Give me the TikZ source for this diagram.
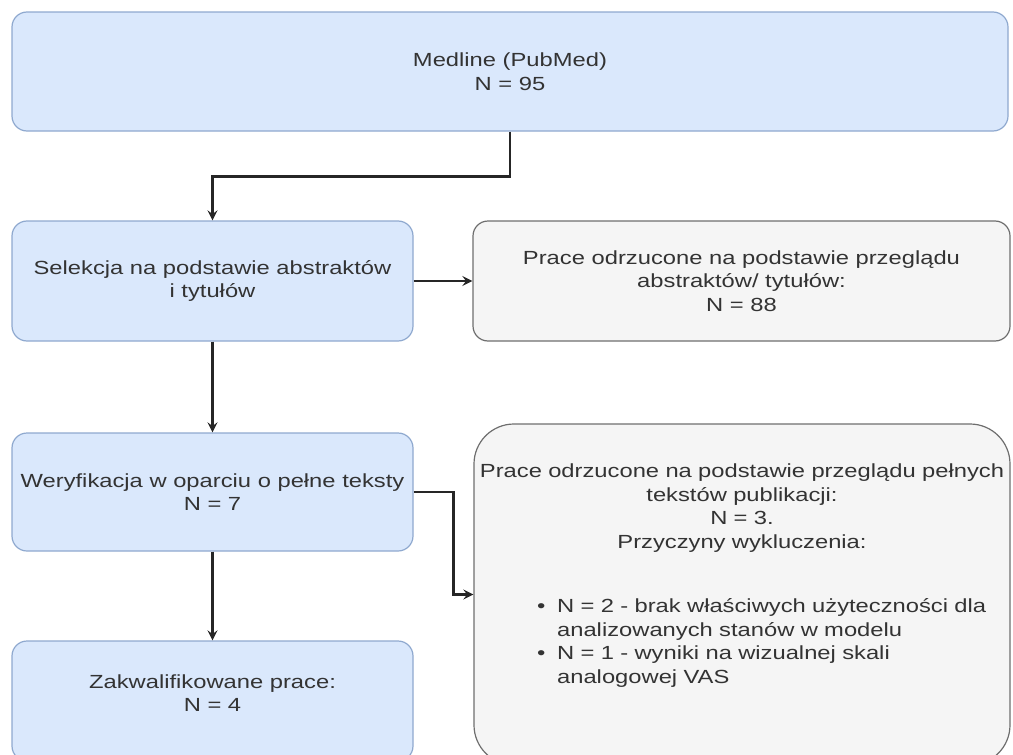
\documentclass[tikz,border=0pt]{standalone}
\usepackage{fontspec}
\setmainfont{Liberation Sans}[FakeStretch=1.25]
\usepackage{tikz}
\usetikzlibrary{arrows}
\definecolor{boxblue}{HTML}{DAE8FC}
\definecolor{lineblue}{HTML}{8FA9CF}
\definecolor{boxgray}{HTML}{F5F5F5}
\definecolor{linegray}{HTML}{6E6E6E}
\definecolor{txtgray}{HTML}{333333}
\tikzstyle{stage} = [font=\fontsize{9.5pt}{11.75pt}\selectfont, rectangle, rounded corners=7.5pt, align=center, inner sep=0pt, line width=0.6pt, text=txtgray, draw=lineblue, fill=boxblue]
\tikzstyle{excluded} = [font=\fontsize{9.5pt}{11.75pt}\selectfont, rectangle, rounded corners=7.5pt, align=center, inner sep=0pt, line width=0.6pt, text=txtgray, draw=linegray, fill=boxgray]
\tikzstyle{arrow} = [line width=1.2pt,->,>=stealth,draw=black!85]

\begin{document}
\begin{tikzpicture}[x=0.5pt,y=-0.5pt]
  \useasboundingbox (0,0) rectangle (1013,755);
  \node (medline) [stage, minimum width=498pt, minimum height=59.5pt] at (510,71.5) {Medline (PubMed)\\ N = 95};
  \node (selekcja) [stage, minimum width=200.5pt, minimum height=60pt] at (212.5,281) {Selekcja na podstawie abstraktów\\ i tytułów};
  \node (odrz_abs) [excluded, minimum width=268.5pt, minimum height=60pt] at (741.5,281) {Prace odrzucone na podstawie przeglądu\\ abstraktów/ tytułów:\\ N = 88};
  \node (weryf) [stage, minimum width=200.5pt, minimum height=59pt] at (212.5,492) {Weryfikacja w oparciu o pełne teksty\\ N = 7};
  \node (zakw) [stage, minimum width=200.5pt, minimum height=60pt, text depth=8pt] at (212.5,701) {Zakwalifikowane prace:\\ N = 4};
  \node (odrz_full) [excluded, rounded corners=20pt, minimum width=268pt, minimum height=170.5pt, text width=265pt, text depth=123.5pt] at (742,594.5) {Prace odrzucone na podstawie przeglądu pełnych\\
    tekstów publikacji:\\
    N = 3.\\
    Przyczyny wykluczenia:\\[21pt]
    \makebox[265pt][l]{\hspace{30pt}\begin{tabular}{@{}l@{\hspace{5.9pt}}l@{}}
      \textbullet & N = 2 - brak właściwych użyteczności dla\\
                  & analizowanych stanów w modelu\\
      \textbullet & N = 1 - wyniki na wizualnej skali\\
                  & analogowej VAS
    \end{tabular}}};
  \draw[arrow](medline.south) -- ++(0,45) -| (selekcja.north);
  \draw[arrow](selekcja) -- (odrz_abs);
  \draw[arrow](selekcja) -- (weryf);
  \draw[arrow](weryf) -- (zakw);
  \draw[arrow](weryf.east) -- ++(40,0) |- (odrz_full.west);
\end{tikzpicture}
\end{document}
